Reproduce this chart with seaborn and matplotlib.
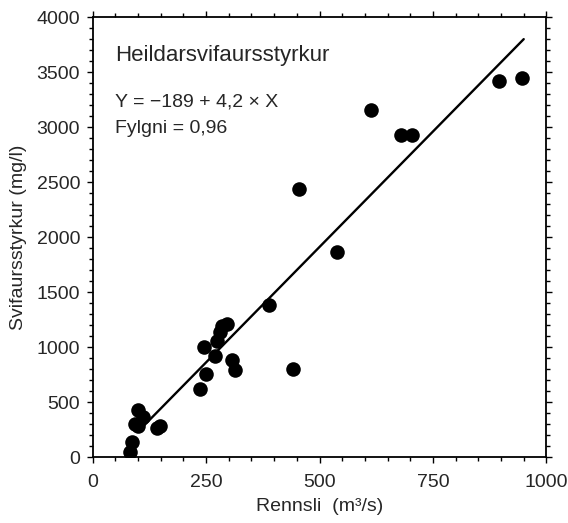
import numpy as np
import pandas as pd
import matplotlib
matplotlib.use("Agg")
import matplotlib.pyplot as plt
import seaborn as sns
from matplotlib.ticker import MultipleLocator

# Data
rennsli = [82, 87, 93, 100, 112, 101, 142, 149, 236, 246, 251, 270, 274, 281,
           285, 297, 307, 314, 389, 441, 454, 539, 613, 679, 703, 896, 947]
styrkur = [50, 135, 298, 425, 363, 285, 265, 285, 615, 1004, 752, 918, 1055, 1140,
           1195, 1212, 880, 790, 1387, 800, 2438, 1862, 3155, 2928, 2928, 3420, 3445]
intercept = -189
slope = 4.2
line_x = [108, 950]

title_text = "Heildarsvifaursstyrkur"
eq_text = "Y = \u2212189 + 4,2 \u00d7 X"
corr_text = "Fylgni = 0,96"
xlabel = "Rennsli  (m\u00b3/s)"
ylabel = "Svifaursstyrkur (mg/l)"

sns.set_style("ticks")
plt.rcParams['font.family'] = ['Liberation Sans', 'DejaVu Sans']

fig = plt.figure(figsize=(5.68, 5.23), dpi=100)
ax = fig.add_axes([0.163, 0.126, 0.799, 0.841])

df = pd.DataFrame({"x": rennsli, "y": styrkur})
sns.scatterplot(data=df, x="x", y="y", ax=ax, color="black", s=110,
                edgecolor="black", linewidth=0, zorder=3)

lx = np.array(line_x, dtype=float)
ax.plot(lx, intercept + slope * lx, color="black", lw=1.7, zorder=2)

ax.set_xlim(0, 1000)
ax.set_ylim(0, 4000)
ax.xaxis.set_major_locator(MultipleLocator(250))
ax.xaxis.set_minor_locator(MultipleLocator(50))
ax.yaxis.set_major_locator(MultipleLocator(500))
ax.yaxis.set_minor_locator(MultipleLocator(100))
ax.tick_params(which="both", direction="out", top=True, right=True,
               labeltop=False, labelright=False, color="black", width=1.0)
ax.tick_params(which="major", length=4, labelsize=14)
ax.tick_params(which="minor", length=3)
ax.tick_params(axis="x", which="major", pad=8)
ax.tick_params(axis="y", which="major", pad=5)
for sp in ax.spines.values():
    sp.set_linewidth(1.3)
    sp.set_color("black")

ax.set_xlabel(xlabel, fontsize=14, labelpad=5)
ax.set_ylabel(ylabel, fontsize=14, labelpad=7)

ax.text(0.049, 0.914, title_text, transform=ax.transAxes, fontsize=16,
        va="center", ha="left")
ax.text(0.049, 0.807, eq_text, transform=ax.transAxes, fontsize=14,
        va="center", ha="left")
ax.text(0.049, 0.748, corr_text, transform=ax.transAxes, fontsize=14,
        va="center", ha="left")

fig.savefig("out.png", dpi=100)
